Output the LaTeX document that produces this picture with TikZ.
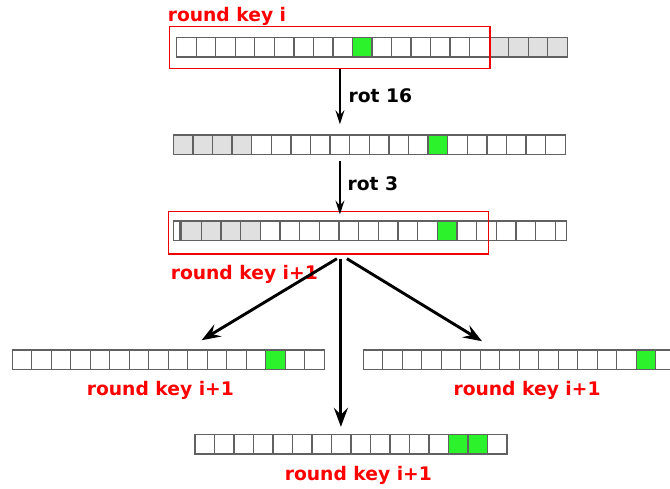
\documentclass[tikz,border=0pt]{standalone}
\usepackage{fontspec}
\setmainfont{DejaVu Sans}
\usepackage{tikz}
\usetikzlibrary{positioning,calc,arrows.meta}
\definecolor{bitgreen}{RGB}{44,242,44}
\definecolor{padgray}{RGB}{224,224,224}
\definecolor{keyred}{RGB}{240,0,0}
\begin{document}
\begin{tikzpicture}[x=1pt, y=-1pt,
    cell/.style={draw=black!62, line width=1.3pt, inner sep=0pt, minimum width=19.5pt, minimum height=19.6pt},
    keybox/.style={draw=keyred, line width=1.4pt, inner sep=0pt},
    keylabel/.style={text=red, font=\bfseries\fontsize{18.7}{20}\selectfont, inner sep=0pt},
    rotlabel/.style={font=\bfseries\fontsize{18.7}{20}\selectfont, inner sep=0pt},
    rot/.style={line width=1.5pt, -{Stealth[length=14pt, width=9pt, inset=5pt]}},
    split/.style={line width=2.9pt, -{Stealth[length=19pt, width=14pt, inset=7pt]}}]
  \useasboundingbox (0,0) rectangle (670,488);
  % round key i
  \foreach \i in {0,...,19} {
    \def\c{white}
    \ifnum\i=9 \def\c{bitgreen}\fi
    \ifnum\i>15 \def\c{padgray}\fi
    \node[cell, fill=\c] (a\i) at ({186.45+\i*19.53},47.3) {};
  }
  \node[keybox, minimum width=320.7pt, minimum height=42pt] (key1) at (329.65,47.7) {};
  \node[keylabel, anchor=base west] (lab1) at ([xshift=-1pt, yshift=4.4pt]key1.north west) {round key i};
  % after rot 16
  \foreach \i in {0,...,19} {
    \def\c{white}
    \ifnum\i<4 \def\c{padgray}\fi
    \ifnum\i=13 \def\c{bitgreen}\fi
    \node[cell, fill=\c] (b\i) at ({183.1+\i*19.6},144.7) {};
  }
  % after rot 3
  \node[cell, minimum width=6.7pt] (c0) at (176.65,230.9) {};
  \foreach \i in {1,...,19} {
    \def\c{white}
    \ifnum\i<5 \def\c{padgray}\fi
    \ifnum\i=14 \def\c{bitgreen}\fi
    \node[cell, minimum width=19.66pt, fill=\c] (c\i) at ({181.7+(\i-0.5)*19.66},230.9) {};
  }
  \node[cell, minimum width=11.5pt] (c20) at (560.95,230.9) {};
  \node[keybox, minimum width=320pt, minimum height=42.3pt] (key3) at (328.3,232.85) {};
  \node[keylabel, anchor=base west] (lab3) at ([xshift=3pt, yshift=-24.3pt]key3.south west) {round key i+1};
  % three candidates
  \foreach \i in {0,...,15} {
    \def\c{white}
    \ifnum\i=13 \def\c{bitgreen}\fi
    \node[cell, fill=\c] (d\i) at ({22.05+\i*19.5},359.7) {};
  }
  \foreach \i in {0,...,15} {
    \def\c{white}
    \ifnum\i=14 \def\c{bitgreen}\fi
    \node[cell, fill=\c] (e\i) at ({373.05+\i*19.5},359.7) {};
  }
  \foreach \i in {0,...,15} {
    \def\c{white}
    \ifnum\i=13 \def\c{bitgreen}\fi
    \ifnum\i=14 \def\c{bitgreen}\fi
    \node[cell, fill=\c] (f\i) at ({204.75+\i*19.5},444.3) {};
  }
  \node[keylabel, anchor=base] (labd) at ([xshift=1.8pt, yshift=-25.7pt]d7.south) {round key i+1};
  \node[keylabel, anchor=base] (labe) at ([xshift=-2pt, yshift=-25.7pt]e8.south) {round key i+1};
  \node[keylabel, anchor=base] (labf) at ([xshift=-2.4pt, yshift=-25.7pt]f8.south) {round key i+1};
  % arrows
  \draw[rot, shorten >=10pt] (key1.south -| b8) -- (b8.north)
    node[rotlabel, midway, anchor=west, xshift=8pt, yshift=6pt] {rot 16};
  \draw[rot, shorten <=6pt, shorten >=-3.5pt] (b8.south) -- (b8 |- key3.north)
    node[rotlabel, midway, anchor=west, xshift=7pt, yshift=-1pt] {rot 3};
  \path (key3.south -| b8) ++(0,4) coordinate (fork);
  \draw[split] ([xshift=-3pt]fork) -- ([xshift=4pt, yshift=9pt]d9.north);
  \draw[split, shorten >=7pt] ([xshift=1pt]fork) -- ([xshift=1pt]fork |- f7.north);
  \draw[split] ([xshift=7pt]fork) -- ([xshift=-8pt, yshift=8pt]e6.north);
\end{tikzpicture}
\end{document}
